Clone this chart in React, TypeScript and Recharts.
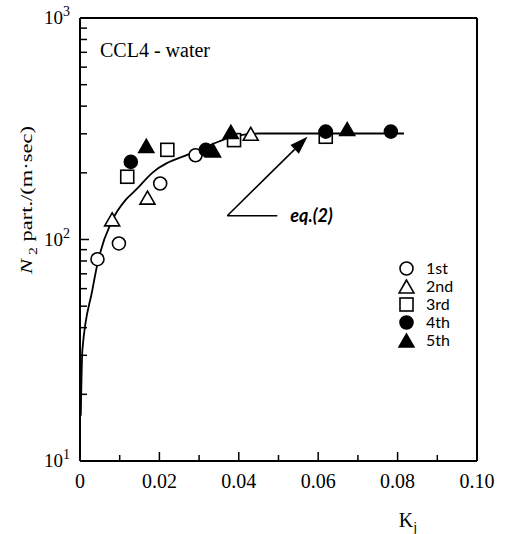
import React from "react";
import { ComposedChart, Scatter, Line, XAxis, YAxis, ReferenceLine } from "recharts";

// Kj axis
const kjTicks = [0, 0.01, 0.02, 0.03, 0.04, 0.05, 0.06, 0.07, 0.08, 0.09, 0.1];
const kjTickLabels = ["0", "", "0.02", "", "0.04", "", "0.06", "", "0.08", "", "0.10"];

// N2 axis (log)
const nTicks = [10, 20, 30, 40, 50, 60, 70, 80, 90, 100, 200, 300, 400, 500, 600, 700, 800, 900, 1000];
const nTickExp = ["1", "", "", "", "", "", "", "", "", "2", "", "", "", "", "", "", "", "", "3"];

// runs
const run1 = [
  { x: 0.0044, y: 81.5 },
  { x: 0.0098, y: 96 },
  { x: 0.0202, y: 179 },
  { x: 0.0291, y: 240 },
];
const run2 = [
  { x: 0.0081, y: 122 },
  { x: 0.017, y: 153 },
  { x: 0.043, y: 297 },
];
const run3 = [
  { x: 0.0119, y: 192 },
  { x: 0.022, y: 254 },
  { x: 0.0388, y: 281 },
  { x: 0.0619, y: 291 },
];
const run4 = [
  { x: 0.0128, y: 224 },
  { x: 0.0317, y: 254 },
  { x: 0.0619, y: 307 },
  { x: 0.0783, y: 307 },
];
const run5 = [
  { x: 0.0167, y: 262 },
  { x: 0.0335, y: 250 },
  { x: 0.038, y: 303 },
  { x: 0.0673, y: 312 },
];

// eq.(2) curve
const eqCurve = [
  { x: 0.0002, y: 16 },
  { x: 0.0006, y: 31.7 },
  { x: 0.0031, y: 59 },
  { x: 0.0046, y: 80.8 },
  { x: 0.0081, y: 122 },
  { x: 0.0115, y: 151 },
  { x: 0.014, y: 167 },
  { x: 0.0182, y: 200 },
  { x: 0.0282, y: 246 },
  { x: 0.035, y: 277 },
  { x: 0.0383, y: 291 },
  { x: 0.0451, y: 301 },
  { x: 0.0816, y: 301 },
];

const arrowFrom = { x: 0.0371, y: 128 };
const arrowTo = { x: 0.0573, y: 291 };
const eqLineEnd = { x: 0.0497, y: 128 };

const series = [
  { name: "1st", data: run1, kind: "circle", filled: false },
  { name: "2nd", data: run2, kind: "triangle", filled: false },
  { name: "3rd", data: run3, kind: "square", filled: false },
  { name: "4th", data: run4, kind: "circle", filled: true },
  { name: "5th", data: run5, kind: "triangle", filled: true },
];

const serif = "'Liberation Serif', 'DejaVu Serif', serif";
const sans = "Lato, 'Open Sans', sans-serif";

function Marker({ cx, cy, kind, filled }: any) {
  const fill = filled ? "#000" : "#fff";
  if (kind === "circle")
    return <circle cx={cx} cy={cy} r={6.5} fill={fill} stroke="#000" strokeWidth={1.6} />;
  if (kind === "square")
    return <rect x={cx - 6.5} y={cy - 6.5} width={13} height={13} fill={fill} stroke="#000" strokeWidth={1.6} />;
  return (
    <polygon
      points={`${cx},${cy - 7.5} ${cx - 7.5},${cy + 5.5} ${cx + 7.5},${cy + 5.5}`}
      fill={fill}
      stroke="#000"
      strokeWidth={1.6}
    />
  );
}

function KjTick({ x, y, index }: any) {
  const label = kjTickLabels[index];
  const edge = index === 0 || index === kjTicks.length - 1;
  return (
    <g>
      {!edge && <line x1={x} x2={x} y1={y} y2={y - (label ? 9 : 6)} stroke="#000" strokeWidth={1.5} />}
      {label && (
        <text x={x} y={y + 27} textAnchor="middle" fontFamily={serif} fontSize={20} fill="#000">
          {label}
        </text>
      )}
    </g>
  );
}

function NTick({ x, y, index }: any) {
  const exp = nTickExp[index];
  const edge = index === 0 || index === nTicks.length - 1;
  return (
    <g>
      {!edge && <line x1={x} x2={x + (exp ? 9 : 7)} y1={y} y2={y} stroke="#000" strokeWidth={1.5} />}
      {exp && (
        <text x={x - 10} y={y + 6} textAnchor="end" fontFamily={serif} fontSize={19} fill="#000">
          10<tspan dy={-8} fontSize={14}>{exp}</tspan>
        </text>
      )}
    </g>
  );
}

function ArrowShape({ x1, y1, x2, y2 }: any) {
  const a = Math.atan2(y2 - y1, x2 - x1);
  const len = 18;
  const w = 6;
  const bx = x2 - len * Math.cos(a);
  const by = y2 - len * Math.sin(a);
  const px = -Math.sin(a) * w;
  const py = Math.cos(a) * w;
  return (
    <g>
      <line x1={x1} y1={y1} x2={bx} y2={by} stroke="#000" strokeWidth={1.6} />
      <polygon points={`${x2},${y2} ${bx + px},${by + py} ${bx - px},${by - py}`} fill="#000" />
    </g>
  );
}

function EqLabelShape({ x1, y1, x2, y2 }: any) {
  return (
    <g>
      <line x1={x1} y1={y1} x2={x2} y2={y2} stroke="#000" strokeWidth={1.6} />
      <text x={x2 + 13} y={y2 + 6} fontFamily={sans} fontStyle="italic" fontWeight={700} fontSize={18} fill="#000">
        eq.(2)
      </text>
    </g>
  );
}

function LegendIcon({ kind, filled }: any) {
  return (
    <svg width={17} height={17} style={{ display: "block" }}>
      <Marker cx={8.5} cy={kind === "triangle" ? 9.5 : 8.5} kind={kind} filled={filled} />
    </svg>
  );
}

export default function App() {
  return (
    <div style={{ position: "absolute", left: 0, top: 0, width: 509, height: 534, background: "#fff" }}>
      <ComposedChart width={509} height={534} margin={{ top: 18, right: 32, left: 0, bottom: 0 }}>
        <XAxis
          type="number"
          dataKey="x"
          domain={[0, 0.1]}
          ticks={kjTicks}
          interval={0}
          tickSize={0}
          tickMargin={0}
          tick={<KjTick />}
          height={73}
          axisLine={{ stroke: "#000", strokeWidth: 2 }}
          allowDataOverflow
          label={{
            content: () => (
              <text x={408} y={527} textAnchor="middle" fontFamily={serif} fontSize={20} fill="#000">
                K<tspan dy={5} fontSize={14}>j</tspan>
              </text>
            ),
          }}
        />
        <YAxis
          type="number"
          dataKey="y"
          scale="log"
          domain={[10, 1000]}
          ticks={nTicks}
          interval={0}
          tickSize={0}
          tickMargin={0}
          tick={<NTick />}
          width={80}
          axisLine={{ stroke: "#000", strokeWidth: 2 }}
          allowDataOverflow
          label={{
            content: () => (
              <text
                transform="translate(32, 200) rotate(-90)"
                textAnchor="middle"
                fontFamily={serif}
                fontSize={17}
                fill="#000"
                textLength={148}
                lengthAdjust="spacingAndGlyphs"
              >
                <tspan fontStyle="italic">N</tspan>
                <tspan dy={5} fontSize={12}> 2</tspan>
                <tspan dy={-5}> part./(m·sec)</tspan>
              </text>
            ),
          }}
        />
        <ReferenceLine y={1000} stroke="#000" strokeWidth={2} />
        <ReferenceLine x={0.1} stroke="#000" strokeWidth={2} />
        <Line
          data={eqCurve}
          dataKey="y"
          type="monotone"
          stroke="#000"
          strokeWidth={1.8}
          dot={false}
          activeDot={false}
          isAnimationActive={false}
        />
        <ReferenceLine segment={[arrowFrom, arrowTo]} shape={<ArrowShape />} />
        <ReferenceLine segment={[arrowFrom, eqLineEnd]} shape={<EqLabelShape />} />
        {series.map((s) => (
          <Scatter
            key={s.name}
            name={s.name}
            data={s.data}
            isAnimationActive={false}
            shape={(p: any) => <Marker cx={p.cx} cy={p.cy} kind={s.kind} filled={s.filled} />}
          />
        ))}
      </ComposedChart>
      <div
        style={{
          position: "absolute",
          left: 100,
          top: 39,
          fontFamily: serif,
          fontSize: 20,
          color: "#000",
        }}
      >
        CCL4 - water
      </div>
      <div style={{ position: "absolute", left: 398, top: 259, fontFamily: sans, fontSize: 16, lineHeight: "18px" }}>
        {series.map((s) => (
          <div key={s.name} style={{ display: "flex", alignItems: "center", height: 18 }}>
            <LegendIcon kind={s.kind} filled={s.filled} />
            <span style={{ marginLeft: 11 }}>{s.name}</span>
          </div>
        ))}
      </div>
    </div>
  );
}
